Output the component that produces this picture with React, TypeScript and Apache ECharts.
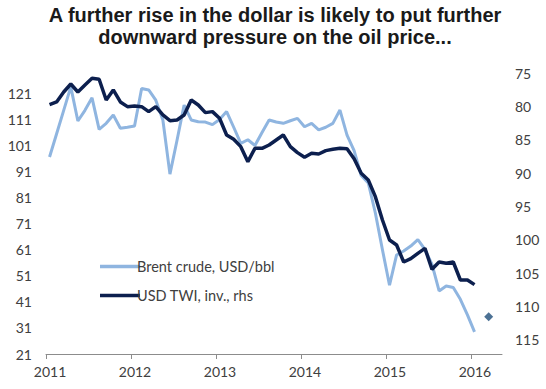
import React, { useEffect, useRef } from "react";
import * as echarts from "echarts";

// Monthly values, Jan 2011 – Jan 2016
const brent: number[] = [
  96.6, 105.5, 114.5, 123.5, 110.4, 114.5, 119.3, 107.2, 109.5, 112.7, 107.6, 108,
  108.5, 122.9, 122.3, 118.4, 110.8, 90, 103, 116.5, 110.8, 110.1, 110, 109,
  111, 114, 108, 101.8, 103.2, 101, 106, 110.8, 110, 109.5, 110.5, 111.4,
  108.2, 109.5, 107, 108, 109.5, 114.6, 105, 99, 89.5, 86.6, 75.1, 61,
  47.4, 59, 60.5, 62.4, 64.9, 61.1, 55.4, 45.2, 47.1, 46.5, 42, 36,
  29.5,
];
const twi: number[] = [
  79.7, 79.3, 77.8, 76.6, 77.8, 76.75, 75.75, 75.9, 79, 77.5, 79.3, 80,
  79.9, 80, 80.75, 80, 81.25, 82.1, 82, 81.25, 79, 79.75, 80.9, 80.75,
  81.75, 84.25, 84.9, 86, 88.25, 86.25, 86.25, 85.75, 85, 84.25, 86, 86.9,
  87.6, 87, 87.1, 86.6, 86.4, 86.25, 86.3, 87.8, 90, 91, 93.5, 97,
  100, 100.75, 103.3, 102.8, 102, 101.25, 104.4, 103.3, 103.5, 103.3, 106, 106,
  106.7,
];
// Projection point (March 2016)
const twiForecastMonthIndex = 62;
const twiForecast = 111.5;

const startYear = 2011;
const yearLabels = [2011, 2012, 2013, 2014, 2015, 2016];

const monthX = (i: number) => startYear + (i + 0.5) / 12;

const LIGHT = "#8fb5e0";
const DARK = "#0c1f4e";

export default function App() {
  const ref = useRef<HTMLDivElement>(null);
  useEffect(() => {
    document.body.style.margin = "0";
    if (!ref.current) return;
    const chart = echarts.init(ref.current, undefined, { renderer: "svg" });
    const labelFont = "Lato, 'Open Sans', sans-serif";
    chart.setOption({
      animation: false,
      backgroundColor: "#ffffff",
      title: {
        text: "A further rise in the dollar is likely to put further\ndownward pressure on the oil price...",
        left: 270,
        textAlign: "center",
        top: -1,
        textStyle: {
          fontFamily: "'Liberation Sans', Arial, sans-serif",
          fontWeight: "bold",
          fontSize: 20,
          lineHeight: 22,
          color: "#1a1a1a",
        },
      },
      legend: {
        data: ["Brent crude, USD/bbl", "USD TWI, inv., rhs"],
        orient: "vertical",
        left: 95,
        top: 254,
        itemWidth: 40,
        itemHeight: 3.5,
        itemGap: 14,
        icon: "rect",
        textStyle: {
          fontFamily: labelFont,
          fontSize: 14.5,
          color: "#404040",
          padding: [0, 0, 0, -8],
        },
      },
      grid: { left: 46, right: 44, top: 73.3, bottom: 35, containLabel: false },
      xAxis: {
        type: "value",
        min: startYear,
        max: 2016.365,
        interval: 1,
        axisLine: { show: true, lineStyle: { color: "#8c8c8c", width: 1 } },
        axisTick: { show: true, length: 5, lineStyle: { color: "#8c8c8c" } },
        splitLine: { show: false },
        axisLabel: {
          margin: 10,
          fontFamily: labelFont,
          fontSize: 14,
          color: "#404040",
          padding: [0, 0, 0, 8],
          showMaxLabel: false,
          formatter: (v: number) =>
            yearLabels.includes(Math.round(v)) && Math.abs(v - Math.round(v)) < 1e-6
              ? String(Math.round(v))
              : "",
        },
      },
      yAxis: [
        {
          type: "value",
          min: 21,
          max: 128.7,
          interval: 10,
          axisLine: { show: false },
          axisTick: { show: false },
          splitLine: { show: false },
          axisLabel: {
            margin: 14,
            fontFamily: labelFont,
            fontSize: 14,
            color: "#404040",
            showMaxLabel: false,
            formatter: (v: number) =>
              Math.abs(v - Math.round(v)) < 1e-6 && v <= 121 ? String(Math.round(v)) : "",
          },
        },
        {
          type: "value",
          min: 75,
          max: 117.1,
          interval: 5,
          inverse: true,
          position: "right",
          axisLine: { show: false },
          axisTick: { show: false },
          splitLine: { show: false },
          axisLabel: {
            margin: 13,
            fontFamily: labelFont,
            fontSize: 14,
            color: "#404040",
            showMaxLabel: false,
            formatter: (v: number) =>
              Math.abs(v - Math.round(v)) < 1e-6 && v <= 115 ? String(Math.round(v)) : "",
          },
        },
      ],
      series: [
        {
          name: "Brent crude, USD/bbl",
          type: "line",
          yAxisIndex: 0,
          data: brent.map((v, i) => [monthX(i), v]),
          symbol: "none",
          color: LIGHT,
          lineStyle: { color: LIGHT, width: 3 },
          z: 2,
        },
        {
          name: "USD TWI, inv., rhs",
          type: "line",
          yAxisIndex: 1,
          data: twi.map((v, i) => [monthX(i), v]),
          symbol: "none",
          color: DARK,
          lineStyle: { color: DARK, width: 3.5 },
          z: 3,
        },
        {
          name: "USD TWI forecast",
          type: "scatter",
          yAxisIndex: 1,
          data: [[monthX(twiForecastMonthIndex), twiForecast]],
          symbol: "diamond",
          symbolSize: 9,
          itemStyle: { color: "#1f4e79" },
          z: 4,
        },
      ],
    });
    return () => chart.dispose();
  }, []);
  return <div ref={ref} style={{ width: 546, height: 389 }} />;
}
